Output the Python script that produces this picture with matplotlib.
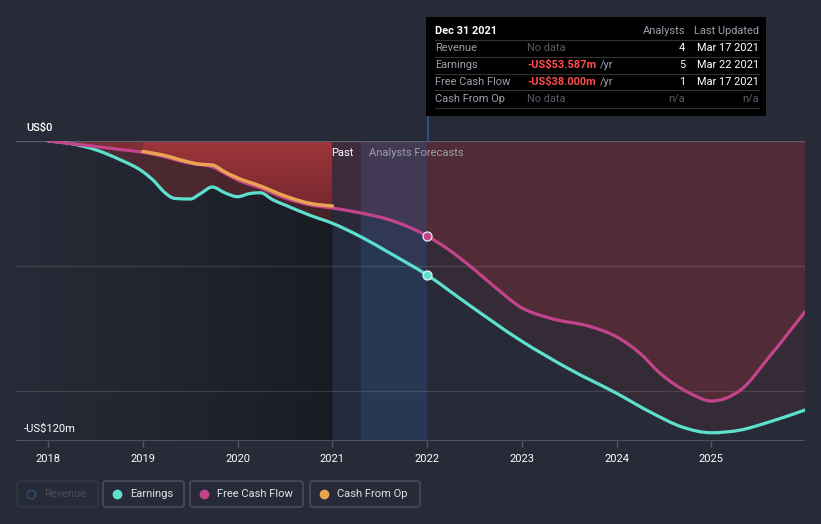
import matplotlib
matplotlib.use("Agg")
import matplotlib.pyplot as plt
import numpy as np
from matplotlib.patches import FancyBboxPatch, Rectangle, PathPatch
from matplotlib.lines import Line2D
from matplotlib.path import Path
from matplotlib.colors import LinearSegmentedColormap

plt.rcParams['font.family'] = ['Roboto', 'DejaVu Sans']

# ---------------- data (US$ m) ----------------
earn_x = [2018.0, 2018.23, 2018.5, 2018.76, 2019.0, 2019.13, 2019.2, 2019.34, 2019.5, 2019.61,
          2019.73, 2019.87, 2020.0, 2020.13, 2020.24, 2020.37, 2020.5, 2020.77, 2021.0, 2021.3,
          2021.61, 2022.0, 2022.44, 2022.98, 2023.51, 2024.0, 2024.36, 2024.7, 2025.0, 2025.31,
          2025.62, 2025.99]
earn_y = [0.0, -1.0, -3.5, -7.5, -12.3, -16.5, -19.5, -23.0, -23.2, -21.0,
          -18.4, -20.8, -22.3, -21.0, -20.7, -23.5, -25.6, -29.8, -32.9, -38.3,
          -44.9, -53.6, -65.5, -79.6, -91.4, -100.9, -108.5, -114.5, -116.7, -115.6,
          -112.3, -107.6]

fcf_x = [2018.0, 2018.5, 2018.76, 2019.0, 2019.23, 2019.39, 2019.5, 2019.73, 2019.87, 2020.0,
         2020.24, 2020.5, 2020.77, 2021.0, 2021.3, 2021.61, 2022.0, 2022.23, 2022.44, 2022.75,
         2022.98, 2023.3, 2023.73, 2024.0, 2024.25, 2024.46, 2024.78, 2025.0, 2025.31, 2025.62,
         2025.99]
fcf_y = [0.0, -2.2, -3.4, -4.5, -6.3, -8.0, -8.9, -10.3, -13.0, -15.6,
         -18.8, -22.8, -25.6, -26.8, -28.8, -31.6, -38.0, -43.5, -49.6, -59.5,
         -66.3, -70.9, -74.3, -78.3, -85.0, -92.9, -101.0, -104.0, -99.6, -86.0,
         -68.3]

cfo_x = [2019.0, 2019.23, 2019.44, 2019.6, 2019.73, 2019.87, 2020.0, 2020.24, 2020.5, 2020.77, 2021.0]
cfo_y = [-4.2, -5.8, -8.0, -9.3, -9.6, -12.5, -14.8, -18.0, -22.0, -25.0, -26.0]

year_ticks = [2018, 2019, 2020, 2021, 2022, 2023, 2024, 2025]

BG = "#262b37"
CYAN = "#5ee0cf"
PINK = "#c2448a"
ORANGE = "#e9a452"
RED = (0.76, 0.20, 0.22)

W, H = 821, 524
fig = plt.figure(figsize=(W / 100, H / 100), dpi=100, facecolor=BG)


def fx(px):
    return px / W


def fy(py):
    return 1 - py / H


def mono_path(xs, ys, close_to=None):
    """Monotone cubic (d3 curveMonotoneX style) Bezier path through data points."""
    x = np.asarray(xs, float)
    y = np.asarray(ys, float)
    n = len(x)
    h = np.diff(x)
    s = np.diff(y) / h
    m = np.zeros(n)
    for i in range(1, n - 1):
        p = (s[i - 1] * h[i] + s[i] * h[i - 1]) / (h[i - 1] + h[i])
        m[i] = (np.sign(s[i - 1]) + np.sign(s[i])) * min(abs(s[i - 1]), abs(s[i]), 0.5 * abs(p))
    m[0] = (3 * s[0] - m[1]) / 2 if n > 2 else s[0]
    m[-1] = (3 * s[-1] - m[-2]) / 2 if n > 2 else s[-1]
    verts = [(x[0], y[0])]
    codes = [Path.MOVETO]
    for i in range(n - 1):
        dx = h[i] / 3
        verts += [(x[i] + dx, y[i] + m[i] * dx), (x[i + 1] - dx, y[i + 1] - m[i + 1] * dx), (x[i + 1], y[i + 1])]
        codes += [Path.CURVE4] * 3
    if close_to is not None:
        verts += [(x[-1], close_to), (x[0], close_to), (x[0], y[0])]
        codes += [Path.LINETO, Path.LINETO, Path.CLOSEPOLY]
    return Path(verts, codes)


ax = fig.add_axes([fx(16), fy(441), fx(805) - fx(16), fy(141) - fy(441)])
ax.set_facecolor(BG)
x0, x1 = 2017.66, 2025.99
ax.set_xlim(x0, x1)
ax.set_ylim(-120, 0)
for sp in ax.spines.values():
    sp.set_visible(False)

# past darkening gradient
grad = np.linspace(0, 1, 256).reshape(1, -1)
cm_dark = LinearSegmentedColormap.from_list("d", [(0.0, (0.10, 0.11, 0.14, 0.0)), (1.0, (0.08, 0.09, 0.11, 0.75))])
ax.imshow(grad, extent=[x0, 2021.0, -120, 0], aspect="auto", cmap=cm_dark, zorder=0.5)


def add_fill(xs, ys, alpha, xlo, xhi, z):
    patch = PathPatch(mono_path(xs, ys, close_to=0.0), facecolor=RED, alpha=alpha, lw=0, zorder=z)
    ax.add_patch(patch)
    clip = Rectangle((xlo, -130), xhi - xlo, 140, transform=ax.transData, visible=False)
    ax.add_patch(clip)
    patch.set_clip_path(clip)


# past fills (stronger)
add_fill(earn_x, earn_y, 0.27, x0, 2021.0, 1.0)
add_fill(fcf_x, fcf_y, 0.42, x0, 2021.0, 1.1)
# forecast fills (weaker)
add_fill(earn_x, earn_y, 0.10, 2021.0, x1 + 1, 1.0)
add_fill(fcf_x, fcf_y, 0.20, 2021.0, x1 + 1, 1.1)

# bright red past fill between 0 and cash from op (gradient clipped)
cfo_patch = PathPatch(mono_path(cfo_x, cfo_y, close_to=0.0), facecolor="none", lw=0)
ax.add_patch(cfo_patch)
cm_red = LinearSegmentedColormap.from_list("r", ["#76292f", "#a1363b"])
vgrad = np.linspace(0, 1, 256).reshape(-1, 1)
im = ax.imshow(vgrad, extent=[2019.0, 2021.0, -27, 0], origin="lower", aspect="auto",
               cmap=cm_red, zorder=1.2, alpha=0.95)
im.set_clip_path(cfo_patch)

# forecast bands
ax.axvspan(2021.0, 2021.3, color="#1b2a44", alpha=0.35, lw=0, zorder=1.5)
ax.axvspan(2021.3, 2022.0, color="#2a4f86", alpha=0.38, lw=0, zorder=1.5)

# gridlines
ax.axhline(0, color="#5a5f6a", lw=1.0, zorder=2)
for g in (-50, -100):
    ax.axhline(g, color="#ffffff", alpha=0.12, lw=0.9, zorder=2)
ax.axhline(-120, color="#555b66", lw=1.2, zorder=2)

# lines
for xs, ys, c, lw, z in [(earn_x, earn_y, CYAN, 2.3, 4), (fcf_x, fcf_y, PINK, 2.3, 4), (cfo_x, cfo_y, ORANGE, 2.5, 5)]:
    ax.add_patch(PathPatch(mono_path(xs, ys), facecolor="none", edgecolor=c, lw=lw, zorder=z, capstyle="round"))

ax.plot([2022.0], [earn_y[earn_x.index(2022.0)]], "o", ms=6.5, mfc=CYAN, mec="#e8f0f5", mew=0.9, zorder=6)
ax.plot([2022.0], [fcf_y[fcf_x.index(2022.0)]], "o", ms=6.5, mfc=PINK, mec="#e8f0f5", mew=0.9, zorder=6)

# vertical line at 2022 between axes top and tooltip
fig.add_artist(Line2D([fx(427.5), fx(427.5)], [fy(141), fy(116)], color="#2f5a9a", lw=1.2, zorder=3))

# ticks
ax.set_xticks(year_ticks)
ax.set_xticklabels([str(y) for y in year_ticks])
ax.set_yticks([])
ax.tick_params(axis="x", colors="#555b66", length=4, width=1, pad=5, labelsize=8, labelcolor="#ffffff")

fig.text(fx(26), fy(128), "US$0", color="#ffffff", fontsize=8, va="center", ha="left", fontweight="medium")
fig.text(fx(24), fy(429), "-US$120m", color="#ffffff", fontsize=8, va="center", ha="left")
fig.text(fx(353), fy(153), "Past", color="#ffffff", fontsize=8, va="center", ha="right")
fig.text(fx(369), fy(153), "Analysts Forecasts", color="#9aa0ab", fontsize=8, va="center", ha="left")

# tooltip
fig.add_artist(Rectangle((fx(426), fy(116)), fx(766) - fx(426), fy(17) - fy(116), transform=fig.transFigure,
                         facecolor="#000000", edgecolor="none", zorder=10))
tt = dict(fontsize=7.9, va="center", zorder=11)
fig.text(fx(435), fy(31), "Dec 31 2021", color="#ffffff", fontweight="bold", **tt)
fig.text(fx(685), fy(31), "Analysts", color="#9aa0ab", ha="right", **tt)
fig.text(fx(759), fy(31), "Last Updated", color="#9aa0ab", ha="right", **tt)
rows = [("Revenue", "No data", "4", "Mar 17 2021"),
        ("Earnings", "-US$53.587m", "5", "Mar 22 2021"),
        ("Free Cash Flow", "-US$38.000m", "1", "Mar 17 2021"),
        ("Cash From Op", "No data", "n/a", "n/a")]
renderer = fig.canvas.get_renderer()
for i, (lab, val, n, d) in enumerate(rows):
    yy = 48 + i * 17
    fig.add_artist(Line2D([fx(435), fx(759)], [fy(yy - 8.5), fy(yy - 8.5)], color="#333333", lw=0.8, zorder=11))
    fig.text(fx(435), fy(yy), lab, color="#9aa0ab", **tt)
    if val == "No data":
        fig.text(fx(527), fy(yy), val, color="#555a63", **tt)
    else:
        t = fig.text(fx(527), fy(yy), val, color="#ff4d4d", fontweight="bold", **tt)
        bb = t.get_window_extent(renderer)
        fig.text(fx(bb.x1 + 4), fy(yy), "/yr", color="#9aa0ab", **tt)
    nc = "#555a63" if n == "n/a" else "#ffffff"
    fig.text(fx(685), fy(yy), n, color=nc, ha="right", **tt)
    fig.text(fx(759), fy(yy), d, color=nc, ha="right", **tt)
fig.add_artist(Line2D([fx(435), fx(759)], [fy(108.5), fy(108.5)], color="#333333", lw=0.8, zorder=11))

# legend
items = [("Revenue", 17, 98, "#2f4a6a", False),
         ("Earnings", 103, 184, CYAN, True),
         ("Free Cash Flow", 190, 303, PINK, True),
         ("Cash From Op", 310, 420, ORANGE, True)]
for lab, l, r, c, act in items:
    box = FancyBboxPatch((fx(l), fy(507)), fx(r) - fx(l), fy(481) - fy(507),
                         boxstyle="round,pad=0,rounding_size=0.004", transform=fig.transFigure,
                         facecolor="none", edgecolor="#4c525e" if act else "#323845", lw=1.0)
    fig.add_artist(box)
    if act:
        fig.add_artist(Line2D([fx(l + 14)], [fy(494)], marker="o", ms=6, color=c, lw=0,
                              transform=fig.transFigure))
        fig.text(fx(l + 27), fy(494), lab, color="#dfe3ea", fontsize=8, va="center")
    else:
        fig.add_artist(Line2D([fx(l + 14)], [fy(494)], marker="o", ms=6, mfc="none", mec=c, mew=1.2, lw=0,
                              transform=fig.transFigure))
        fig.text(fx(l + 27), fy(494), lab, color="#4a505c", fontsize=8, va="center")

fig.savefig("out.png", dpi=100, facecolor=BG)
